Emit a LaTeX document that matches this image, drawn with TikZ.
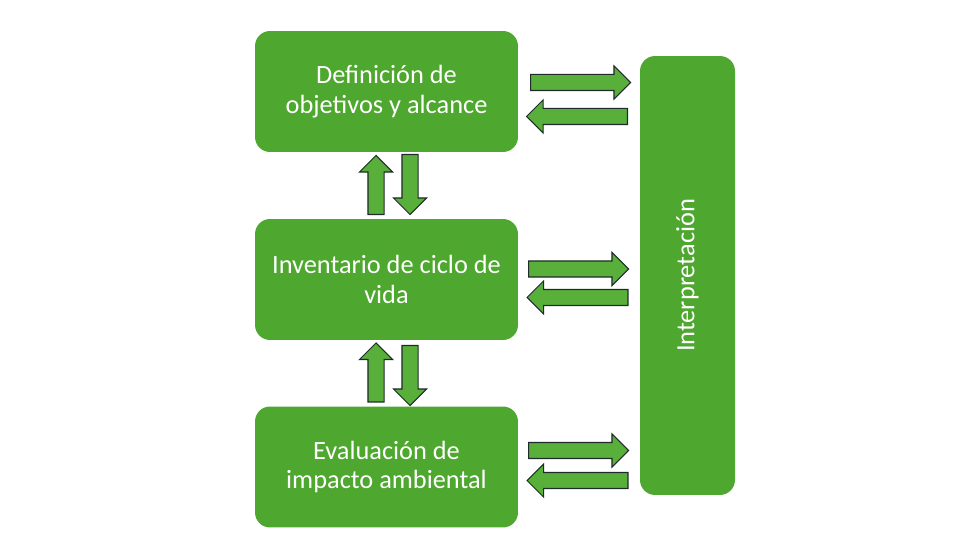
\documentclass[tikz,border=0pt]{standalone}
\usepackage{fontspec}
\setmainfont{Carlito}
\usetikzlibrary{shapes.arrows}

\definecolor{boxgreen}{HTML}{4EA72E}
\definecolor{arrowgreen}{HTML}{58B03A}
\definecolor{arrowline}{HTML}{1E2B2A}

\begin{document}
\begin{tikzpicture}[
    x=0.02cm, % one unit = one pixel of the 980x560 frame
    y=-0.02cm,
    stage box/.style={rectangle, rounded corners=0.3cm, fill=boxgreen,
        text=white, align=center, font=\fontsize{15}{17}\selectfont,
        minimum width=5.26cm, minimum height=2.42cm, inner sep=0pt},
    flow arrow/.style={single arrow, draw=arrowline, line width=0.6pt,
        fill=arrowgreen, inner sep=0.15cm, minimum width=0pt,
        single arrow head extend=0.17cm, outer sep=0pt},
    to right/.style={flow arrow, minimum height=2cm},
    to left/.style={flow arrow, minimum height=2.02cm, shape border rotate=180},
    to up/.style={flow arrow, minimum height=1.18cm, shape border rotate=90},
    to down/.style={flow arrow, minimum height=1.2cm, shape border rotate=270}
    ]
\useasboundingbox (0,0) rectangle (980,560);

% --- Stages ---
\node[stage box] (def) at (386.5,91.5) {Definición de\\objetivos y alcance};
\node[stage box] (inv) at (386.5,279.5) {Inventario de ciclo de\\vida};
\node[stage box] (eva) at (386.5,467) {Evaluación de\\impacto ambiental};

% --- Interpretation column ---
\node[stage box, minimum width=1.9cm, minimum height=8.78cm] (interp) at (687.5,275.5) {};
\node[text=white, font=\fontsize{15}{17}\selectfont, rotate=90] (interp-label) at (interp.center) {Interpretación};

% --- Arrows between stages and interpretation ---
% (node centre sits about 4.5 units behind the middle of the arrow)
\node[to right] (def-r) at (576.5,82.5) {};
\node[to left] (def-l) at (581,116.5) {};
\node[to right] (inv-r) at (574.5,269) {};
\node[to left] (inv-l) at (581.5,297.5) {};
\node[to right] (eva-r) at (574.5,450.5) {};
\node[to left] (eva-l) at (581.5,480.5) {};

% --- Arrows between stages ---
\node[to up] (di-u) at (376,189) {};
\node[to down] (di-d) at (410,180.5) {};
\node[to up] (ie-u) at (376,376.5) {};
\node[to down] (ie-d) at (410,371.5) {};

\end{tikzpicture}
\end{document}
